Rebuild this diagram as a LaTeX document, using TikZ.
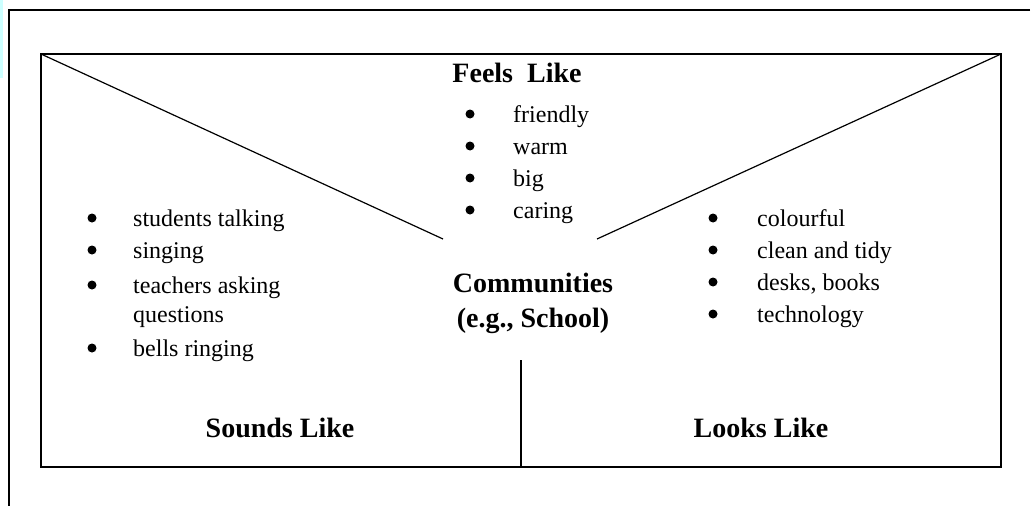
\documentclass[tikz,border=0pt]{standalone}
\usepackage{fontspec}
\setmainfont{Liberation Serif}
\usetikzlibrary{positioning}
\definecolor{stripblue}{RGB}{204,255,255}

\begin{document}
\begin{tikzpicture}[
    x=1pt, y=-1pt,
    frame/.style={line width=2pt},
    split/.style={line width=1.2pt},
    dot/.style={circle, fill=black, inner sep=0pt, minimum size=9pt},
    item/.style={anchor=base west, inner sep=0pt, font=\fontsize{24}{28}\selectfont},
    heading/.style={inner sep=0pt, font=\fontsize{28}{35}\selectfont\bfseries, align=center}
  ]
    \useasboundingbox (0,0) rectangle (1031,506);
    % page edge + outer frame
    \fill[stripblue] (0,0) rectangle (3,78);
    \coordinate (otr) at (1030,10);
    \coordinate (otl) at (9,10);
    \coordinate (obl) at (9,506);
    \draw[frame] (otr) -- (otl) -- (obl);
    % chart box
    \coordinate (tl) at (41,54);
    \coordinate (tr) at (1001,54);
    \coordinate (bm) at (521,467);
    \coordinate (br) at (1001,467);
    \draw[frame] (tl) rectangle (br);
    % dividers
    \coordinate (lend) at (443,239);
    \coordinate (rend) at (597,239);
    \coordinate (vtop) at (521,360);
    \draw[split] (tl) -- (lend);
    \draw[split] (tr) -- (rend);
    \draw[split] (vtop) -- (bm);
    % headings
    \node[heading, anchor=base] (feels) at (517,82) {Feels\ \ Like};
    \node[heading] (centre) at (533,303) {Communities\\(e.g., School)};
    \node[heading, anchor=base] (sounds) at (280,437) {Sounds Like};
    \node[heading, anchor=base] (looks) at (761,437) {Looks Like};
    % feels like list
    \foreach \txt/\yy [count=\i] in {friendly/122, warm/154, big/186, caring/218} {
      \node[dot] (fdot\i) at (470,\yy-8) {};
      \node[item] (fitem\i) at (513,\yy) {\txt};
    }
    % sounds like list
    \foreach \txt/\yy [count=\i] in {students talking/226, singing/258, teachers asking/293, bells ringing/356} {
      \node[dot] (sdot\i) at (92,\yy-8) {};
      \node[item] (sitem\i) at (133,\yy) {\txt};
    }
    \node[item] (sitem3b) at (133,322) {questions};
    % looks like list
    \foreach \txt/\yy [count=\i] in {colourful/226, clean and tidy/258, {desks, books}/290, technology/322} {
      \node[dot] (ldot\i) at (713,\yy-8) {};
      \node[item] (litem\i) at (757,\yy) {\txt};
    }
  \end{tikzpicture}
\end{document}
